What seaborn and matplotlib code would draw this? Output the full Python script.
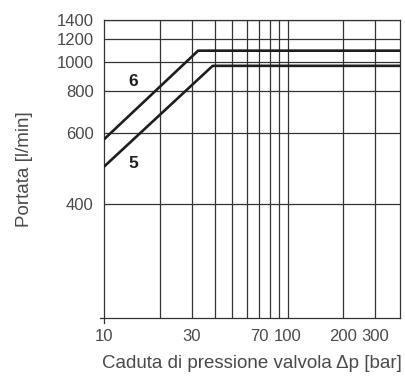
import numpy as np
import pandas as pd
import matplotlib
matplotlib.use("Agg")
import matplotlib.pyplot as plt
import seaborn as sns

# ---- data ----
dp_6 = [10, 32.5, 410]
q_6 = [577, 1090, 1090]
dp_5 = [10, 39, 410]
q_5 = [489, 968, 968]
curve_names = ["6", "5"]
label_x = [14.3, 14.3]
label_y = [862, 497]

x_tick_vals = [10, 30, 70, 100, 200, 300]
x_tick_labels = ["10", "30", "70", "100", "200", "300"]
x_grid_vals = [20, 30, 40, 50, 60, 70, 80, 90, 100, 200, 300]
y_tick_vals = [400, 600, 800, 1000, 1200, 1400]
y_tick_labels = ["400", "600", "800", "1000", "1200", "1400"]

x_label = "Caduta di pressione valvola \u0394p [bar]"
y_label = "Portata [l/min]"

df = pd.DataFrame({
    "dp": dp_6 + dp_5,
    "q": q_6 + q_5,
    "curve": ["6"] * len(dp_6) + ["5"] * len(dp_5),
})

sns.set_style("white")
plt.rcParams["font.family"] = ["Liberation Sans", "DejaVu Sans"]

fig = plt.figure(figsize=(4.06, 3.76), dpi=100)
ax = fig.add_axes([0.257, 0.1535, 0.728, 0.7935])

txt = "#4a4a4a"
gridc = "#333333"

ax.set_xscale("log")
ax.set_yscale("function",
              functions=(lambda y: np.log10(np.clip(np.asarray(y, float) - 200, 1e-6, None)),
                         lambda t: 10 ** np.asarray(t, float) + 200))
ax.set_xlim(10, 410)
ax.set_ylim(266, 1400)

for xv in x_grid_vals:
    ax.axvline(xv, color=gridc, lw=0.9, zorder=1)
for yv in y_tick_vals:
    ax.axhline(yv, color=gridc, lw=0.9, zorder=1)

sns.lineplot(data=df, x="dp", y="q", hue="curve", units="curve", estimator=None,
             sort=False, palette={"6": "#1e1e1e", "5": "#1e1e1e"}, lw=1.9,
             legend=False, ax=ax, zorder=3)

for name, lx, ly in zip(curve_names, label_x, label_y):
    ax.text(lx, ly, name, fontsize=12.5, fontweight="bold", color="#1e1e1e",
            ha="center", va="center", zorder=4)

ax.set_xticks(x_tick_vals)
ax.set_xticklabels(x_tick_labels)
ax.xaxis.set_minor_locator(matplotlib.ticker.NullLocator())
ax.set_yticks(y_tick_vals)
ax.set_yticklabels(y_tick_labels)
ax.yaxis.set_minor_locator(matplotlib.ticker.NullLocator())

ax.tick_params(axis="x", length=0, pad=7.5, labelsize=12, labelcolor=txt)
ax.tick_params(axis="y", length=2.6, width=0.9, color=gridc, pad=5.2,
               labelsize=12, labelcolor=txt)

for side in ["left", "bottom", "top", "right"]:
    ax.spines[side].set_visible(True)
    ax.spines[side].set_color(gridc)
    ax.spines[side].set_linewidth(0.9)
ax.spines["left"].set_bounds(263, 1400)
ax.spines["bottom"].set_bounds(9.5, 410)

ax.set_xlabel(x_label, fontsize=13.5, color=txt, labelpad=8)
ax.set_ylabel(y_label, fontsize=13.5, color=txt, labelpad=17)
ax.grid(False)

fig.savefig("out.png", dpi=100)
